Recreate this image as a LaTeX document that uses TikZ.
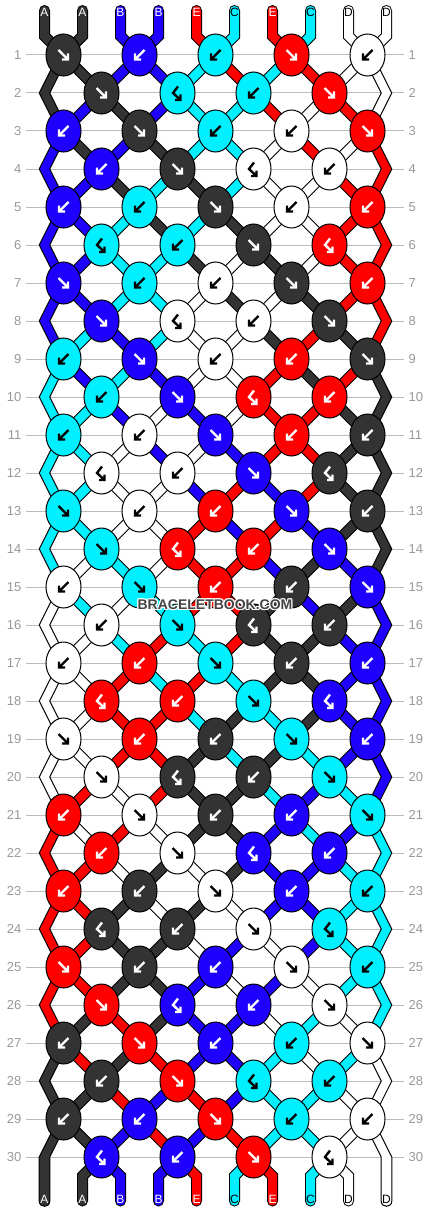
\documentclass[tikz,border=0pt]{standalone}
\usepackage{fontspec}
\setmainfont{Liberation Sans}
\usetikzlibrary{shapes.geometric}
\definecolor{colA}{HTML}{333333}
\definecolor{colB}{HTML}{1F00FF}
\definecolor{colE}{HTML}{FF0000}
\definecolor{colC}{HTML}{00F0FF}
\definecolor{colD}{HTML}{FFFFFF}
\colorlet{garrA}{white}
\colorlet{garrB}{white}
\colorlet{garrE}{white}
\colorlet{garrC}{black}
\colorlet{garrD}{black}
\definecolor{rowgray}{HTML}{BBBBBB}
\definecolor{numgray}{HTML}{999999}
\definecolor{wmgray}{HTML}{444444}
\tikzset{
  str/.style={draw=black, line width=1pt, double=#1, double distance=9pt, line join=miter},
  edgepoly/.style={draw=black, line width=1pt, line join=miter},
  knot/.style={ellipse, draw=black, line width=1pt, inner sep=0pt, minimum width=35pt, minimum height=42pt},
  glyph/.style={line width=2.4pt, line join=miter, line cap=butt},
  rownum/.style={text=numgray, font=\fontsize{13}{15}\selectfont, inner sep=0pt},
  rowline/.style={draw=rowgray, line width=1pt},
  endlab/.style={font=\fontsize{12}{13}\selectfont, inner sep=0pt},
  wm/.style={font=\bfseries\fontsize{14}{16}\selectfont, inner sep=0pt},
}
\newcommand\kglF[2]{\draw[glyph,#2,shift={(#1)}] (-5,-5) -- (4.5,4.5) (4.5,-1.5) -- (4.5,4.5) -- (-1.5,4.5);}
\newcommand\kglB[2]{\draw[glyph,#2,shift={(#1)}] (5,-5) -- (-4.5,4.5) (-4.5,-1.5) -- (-4.5,4.5) -- (1.5,4.5);}
\newcommand\kglH[2]{\draw[glyph,#2,shift={(#1)}] (0.5,-6.5) -- (-4.5,0) -- (3,7) (3,1.5) -- (3,7) -- (-2.5,7);}
\newcommand\edgepiece[4]{\filldraw[edgepoly, fill=#1] ([xshift=-5.3pt]#2) -- ([xshift=-5.3pt]#3) -- ([xshift=-5.3pt]#4) -- ([xshift=5.3pt]#4) -- ([xshift=5.3pt]#3) -- ([xshift=5.3pt]#2) -- cycle;}
\newcommand\edgeend[4]{\filldraw[edgepoly, fill=#1] ([xshift=-5.3pt]#2) -- ([xshift=-5.3pt]#3) -- ([xshift=-5.3pt]#4) .. controls ([xshift=-5.3pt,yshift=-7.07pt]#4) and ([xshift=5.3pt,yshift=-7.07pt]#4) .. ([xshift=5.3pt]#4) -- ([xshift=5.3pt]#3) -- ([xshift=5.3pt]#2) -- cycle;}
\begin{document}
\begin{tikzpicture}[x=1pt,y=-1pt]
\useasboundingbox (0,0) rectangle (430,1212);
\fill[white] (0,0) rectangle (430,1212);
% string positions per row
\foreach \r in {1,...,30}{
  \foreach \p in {0,...,9}{
    \pgfmathsetmacro\yy{55+38*(\r-1)}
    \ifodd\r
      \pgfmathsetmacro\xx{63.5+76*floor(\p/2)}
    \else
      \ifnum\p=0 \def\xx{44.5}\else
      \ifnum\p=9 \def\xx{386.5}\else
      \pgfmathsetmacro\xx{101.5+76*floor((\p-1)/2)}\fi\fi
    \fi
    \coordinate (s-\r-\p) at (\xx,\yy);
  }
}
\foreach \p in {0,...,9}{
  \pgfmathsetmacro\xx{44.5+38*\p}
  \coordinate (t-\p) at (\xx,10.5);
  \coordinate (tb-\p) at (\xx,36);
  \coordinate (bb-\p) at (\xx,1176);
  \coordinate (b-\p) at (\xx,1201);
}
% row lines and numbers
\foreach \r in {1,...,30}{
  \pgfmathsetmacro\yy{55+38*(\r-1)}
  \coordinate (gl-\r) at (26,\yy);
  \coordinate (gr-\r) at (404,\yy);
  \draw[rowline] (gl-\r) -- (gr-\r);
  \node[rownum, anchor=east] (nl-\r) at (21.5,\yy) {\r};
  \node[rownum, anchor=west] (nr-\r) at (408.5,\yy) {\r};
}
% top stubs
\foreach \c [count=\p from 0] in {A,A,B,B,E,C,E,C,D,D}{
  \draw[str=col\c, line cap=round] (t-\p) -- (tb-\p) -- (s-1-\p);
}
% bottom stubs
\foreach \c [count=\p from 0] in {A,A,B,B,E,C,E,C,D,D}{
  \ifnum\p>0 \ifnum\p<9
    \draw[str=col\c, line cap=round] (s-30-\p) -- (bb-\p) -- (b-\p);
  \fi\fi
}
% strings between rows
\foreach \r/\lst in {1/{A,A,B,B,C,E,C,E,D,D},
2/{A,B,A,B,C,C,E,D,E,D},
3/{B,A,B,A,C,C,D,E,D,E},
4/{B,B,A,C,A,C,D,D,E,E},
5/{B,B,C,A,C,A,D,D,E,E},
6/{B,B,C,C,A,D,A,D,E,E},
7/{B,B,C,C,D,A,D,A,E,E},
8/{B,C,B,C,D,D,A,E,A,E},
9/{C,B,C,B,D,D,E,A,E,A},
10/{C,C,B,D,B,D,E,E,A,A},
11/{C,C,D,B,D,B,E,E,A,A},
12/{C,C,D,D,B,E,B,E,A,A},
13/{C,C,D,D,E,B,E,B,A,A},
14/{C,D,C,D,E,E,B,A,B,A},
15/{D,C,D,C,E,E,A,B,A,B},
16/{D,D,C,E,C,E,A,A,B,B},
17/{D,D,E,C,E,C,A,A,B,B},
18/{D,D,E,E,C,A,C,A,B,B},
19/{D,D,E,E,A,C,A,C,B,B},
20/{D,E,D,E,A,A,C,B,C,B},
21/{E,D,E,D,A,A,B,C,B,C},
22/{E,E,D,A,D,A,B,B,C,C},
23/{E,E,A,D,A,D,B,B,C,C},
24/{E,E,A,A,D,B,D,B,C,C},
25/{E,E,A,A,B,D,B,D,C,C},
26/{E,A,E,A,B,B,D,C,D,C},
27/{A,E,A,E,B,B,C,D,C,D},
28/{A,A,E,B,E,B,C,C,D,D},
29/{A,A,B,E,B,E,C,C,D,D}}{
  \pgfmathtruncatemacro\rn{\r+1}
  \pgfmathtruncatemacro\rnn{\r+2}
  \foreach \c [count=\p from 0] in \lst {
    \ifnum\p>0 \ifnum\p<9
      \draw[str=col\c] (s-\r-\p) -- (s-\rn-\p);
    \fi\fi
    \ifodd\r
      \ifnum\p=0 \def\doedge{1}\else\ifnum\p=9 \def\doedge{1}\else\def\doedge{0}\fi\fi
      \ifnum\doedge=1
        \ifnum\r<29
          \edgepiece{col\c}{s-\r-\p}{s-\rn-\p}{s-\rnn-\p}
        \else
          \edgeend{col\c}{s-\r-\p}{s-\rn-\p}{b-\p}
        \fi
      \fi
    \fi
  }
}
% knots
\foreach \r/\lst in {1/{A/F,B/B,C/B,E/F,D/B},
2/{A/F,C/H,C/B,E/F},
3/{B/B,A/F,C/B,D/B,E/F},
4/{B/B,A/F,D/H,D/B},
5/{B/B,C/B,A/F,D/B,E/B},
6/{C/H,C/B,A/F,E/H},
7/{B/F,C/B,D/B,A/F,E/B},
8/{B/F,D/H,D/B,A/F},
9/{C/B,B/F,D/B,E/B,A/F},
10/{C/B,B/F,E/H,E/B},
11/{C/B,D/B,B/F,E/B,A/B},
12/{D/H,D/B,B/F,A/H},
13/{C/F,D/B,E/B,B/F,A/B},
14/{C/F,E/H,E/B,B/F},
15/{D/B,C/F,E/B,A/B,B/F},
16/{D/B,C/F,A/H,A/B},
17/{D/B,E/B,C/F,A/B,B/B},
18/{E/H,E/B,C/F,B/H},
19/{D/F,E/B,A/B,C/F,B/B},
20/{D/F,A/H,A/B,C/F},
21/{E/B,D/F,A/B,B/B,C/F},
22/{E/B,D/F,B/H,B/B},
23/{E/B,A/B,D/F,B/B,C/B},
24/{A/H,A/B,D/F,C/H},
25/{E/F,A/B,B/B,D/F,C/B},
26/{E/F,B/H,B/B,D/F},
27/{A/B,E/F,B/B,C/B,D/F},
28/{A/B,E/F,C/H,C/B},
29/{A/B,B/B,E/F,C/B,D/B},
30/{B/H,B/B,E/F,D/H}}{
  \pgfmathsetmacro\yy{55+38*(\r-1)}
  \foreach \c/\t [count=\k from 0] in \lst {
    \ifodd\r \pgfmathsetmacro\xx{63.5+76*\k}\else \pgfmathsetmacro\xx{101.5+76*\k}\fi
    \node[knot, fill=col\c] (k-\r-\k) at (\xx,\yy) {};
    \csname kgl\t\endcsname{k-\r-\k}{garr\c}
  }
}
% end labels
\foreach \c [count=\p from 0] in {A,A,B,B,E,C,E,C,D,D}{
  \pgfmathsetmacro\xx{44.5+38*\p}
  \node[endlab, text=garr\c] (lt-\p) at (\xx,12.5) {\c};
  \node[endlab, text=garr\c] (lb-\p) at (\xx,1199.5) {\c};
}
% watermark
\foreach \dx/\dy [count=\i] in {-1/0,1/0,0/-1,0/1,-1/-1,1/1,-1/1,1/-1}{
  \node[wm, text=white] (wmh-\i) at (215+\dx,605+\dy) {BRACELETBOOK.COM};
}
\node[wm, text=wmgray] (wm) at (215,605) {BRACELETBOOK.COM};
\end{tikzpicture}
\end{document}
